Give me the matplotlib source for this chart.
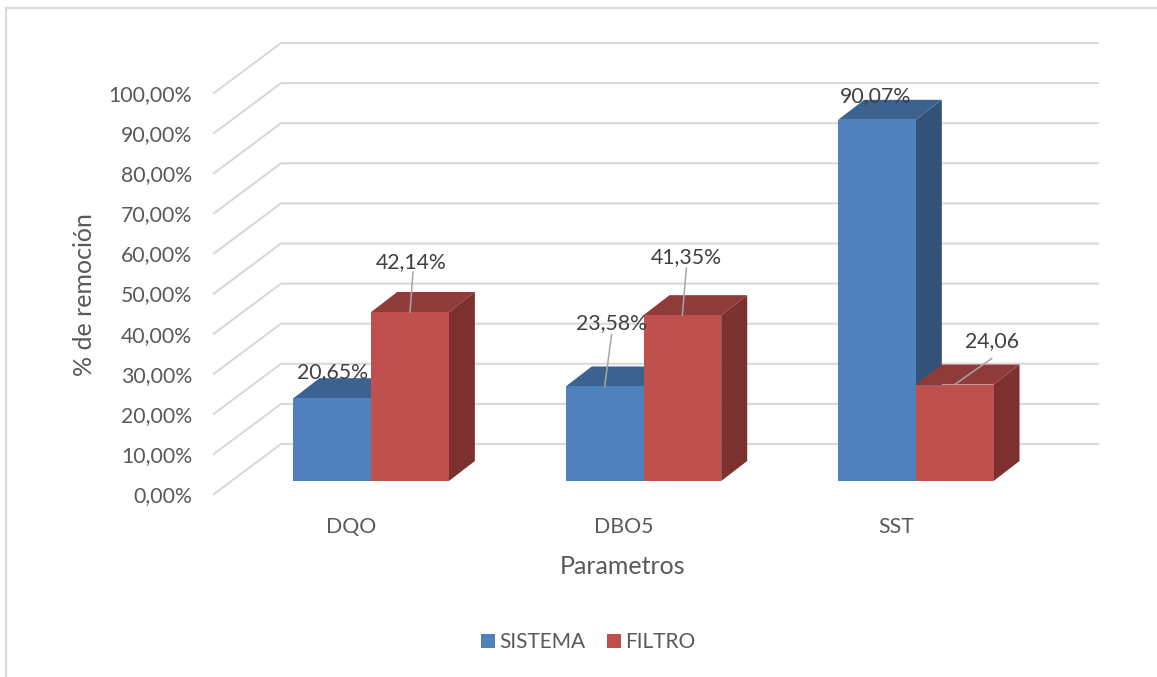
"""
Removal efficiency by parameter, drawn as a clustered bar chart with a
hand-built 3D look (top and side faces on each bar, slanted floor lines).
"""
import matplotlib
matplotlib.use('Agg')
import matplotlib.pyplot as plt
from matplotlib.patches import Polygon, Rectangle

plt.rcParams['font.family'] = ['Lato', 'DejaVu Sans']

# Data
categories = ['DQO', 'DBO5', 'SST']
sistema = [20.65, 23.58, 90.07]
filtro = [42.14, 41.35, 24.06]
sistema_labels = ['20,65%', '23,58%', '90,07%']
filtro_labels = ['42,14%', '41,35%', '24,06']
y_ticks = [0, 10, 20, 30, 40, 50, 60, 70, 80, 90, 100]
y_tick_labels = [f'{t},00%' for t in y_ticks]

# Figure layout, in pixels
W, H = 1157, 677
PLANE_L, PLANE_R = 235, 1052
PLANE_BOTTOM, PLANE_TOP = 481, 80
PX_X = (PLANE_R - PLANE_L) / len(categories)
PX_Y = (PLANE_BOTTOM - PLANE_TOP) / 100

# Depth offsets, in pixels
FRONT = (-21, -13)
BACK = (46, 37)
BAR_DEPTH = (26, 20)
BAR_WIDTH = 77.7 / PX_X

# Colors
C_GRID = '#D9D9D9'
C_BORDER = '#D9D9D9'
C_TICK = '#595959'
C_LABEL = '#404040'
C_LEADER = '#A6A6A6'
C_SISTEMA = ('#4F81BD', '#3C6290', '#325279')
C_FILTRO = ('#C0504D', '#8F3B39', '#7D312F')


def shift(x, y, off):
    """Move a data point by an offset given in pixels."""
    return x + off[0] / PX_X, y + off[1] / PX_Y


def draw_bar(ax, left, value, colors):
    """Draw one bar: side and top faces behind, front face on top."""
    right = left + BAR_WIDTH
    front, top, side = colors
    ax.add_patch(Polygon([(right, 0), shift(right, 0, BAR_DEPTH),
                          shift(right, value, BAR_DEPTH), (right, value)],
                         closed=True, facecolor=side, edgecolor='none',
                         clip_on=False, zorder=3))
    ax.add_patch(Polygon([(left, value), shift(left, value, BAR_DEPTH),
                          shift(right, value, BAR_DEPTH), (right, value)],
                         closed=True, facecolor=top, edgecolor='none',
                         clip_on=False, zorder=3))
    ax.add_patch(Rectangle((left, 0), BAR_WIDTH, value, facecolor=front,
                           edgecolor='none', clip_on=False, zorder=4))


def draw_label(ax, x, value, text, off, leader=None):
    """Data label placed off the top edge of a bar, with optional leader."""
    ax.annotate(text, xy=(x, value), xytext=off, textcoords='offset pixels',
                ha='center', va='center', fontsize=15.3, color=C_LABEL,
                annotation_clip=False, zorder=7)
    if leader is not None:
        ax.plot(*zip((x, value), shift(x, value, leader)), color=C_LEADER,
                lw=1.1, clip_on=False, zorder=6)


fig = plt.figure(figsize=(W / 100, H / 100), dpi=100)
ax = fig.add_axes([PLANE_L / W, 1 - PLANE_BOTTOM / H,
                   (PLANE_R - PLANE_L) / W,
                   (PLANE_BOTTOM - PLANE_TOP) / H])
ax.set_xlim(0, len(categories))
ax.set_ylim(0, 100)
ax.axis('off')

# Outer frame
for xs, ys in [((6, 6), (8, H)), ((6, W), (8, 8))]:
    fig.add_artist(plt.Line2D([x / W for x in xs], [1 - y / H for y in ys],
                              color=C_BORDER, lw=1.5))

# Floor slants and back wall gridlines
for t, label in zip(y_ticks, y_tick_labels):
    p0 = shift(0, t, FRONT)
    p1 = shift(0, t, BACK)
    p2 = shift(len(categories), t, BACK)
    ax.plot(*zip(p0, p1, p2), color=C_GRID, lw=1.5, clip_on=False, zorder=1)
    ax.annotate(label, xy=p0, xytext=(-22, -2), textcoords='offset pixels',
                ha='right', va='center', fontsize=15.3, color=C_TICK,
                annotation_clip=False)

# Offsets of the data labels and their leader lines, in pixels
sistema_off = [(0, 26), (7, 63), (-1, 24)]
sistema_lead = [None, (7, 52), None]
filtro_off = [(1, 50), (4, 58), (37, 43)]
filtro_lead = [(3, 40), (4, 47), (37, 26)]

for i, name in enumerate(categories):
    draw_bar(ax, i + 0.5 - BAR_WIDTH, sistema[i], C_SISTEMA)
    draw_bar(ax, i + 0.5, filtro[i], C_FILTRO)
    draw_label(ax, i + 0.5 - BAR_WIDTH / 2, sistema[i], sistema_labels[i],
               sistema_off[i], sistema_lead[i])
    draw_label(ax, i + 0.5 + BAR_WIDTH / 2, filtro[i], filtro_labels[i],
               filtro_off[i], filtro_lead[i])
    ax.annotate(name, xy=(i + 0.5, 0), xytext=(-20, -46),
                textcoords='offset pixels', ha='center', va='center',
                fontsize=15.3, color=C_TICK, annotation_clip=False)

# Axis titles
fig.text(85 / W, 1 - 295 / H, '% de remoción', rotation=90, ha='center',
         va='center', fontsize=18, color=C_TICK)
fig.text(623 / W, 1 - 566 / H, 'Parametros', ha='center', va='center',
         fontsize=18, color=C_TICK)

# Legend
for x, name, color in [(481, 'SISTEMA', C_SISTEMA[0]),
                       (607, 'FILTRO', C_FILTRO[0])]:
    fig.add_artist(Rectangle((x / W, 1 - 648 / H), 14 / W, 14 / H,
                             facecolor=color, edgecolor='none'))
    fig.text((x + 18) / W, 1 - 642 / H, name, ha='left', va='center',
             fontsize=15, color=C_TICK)

fig.savefig('out.png', dpi=100, facecolor='white')
plt.close(fig)
